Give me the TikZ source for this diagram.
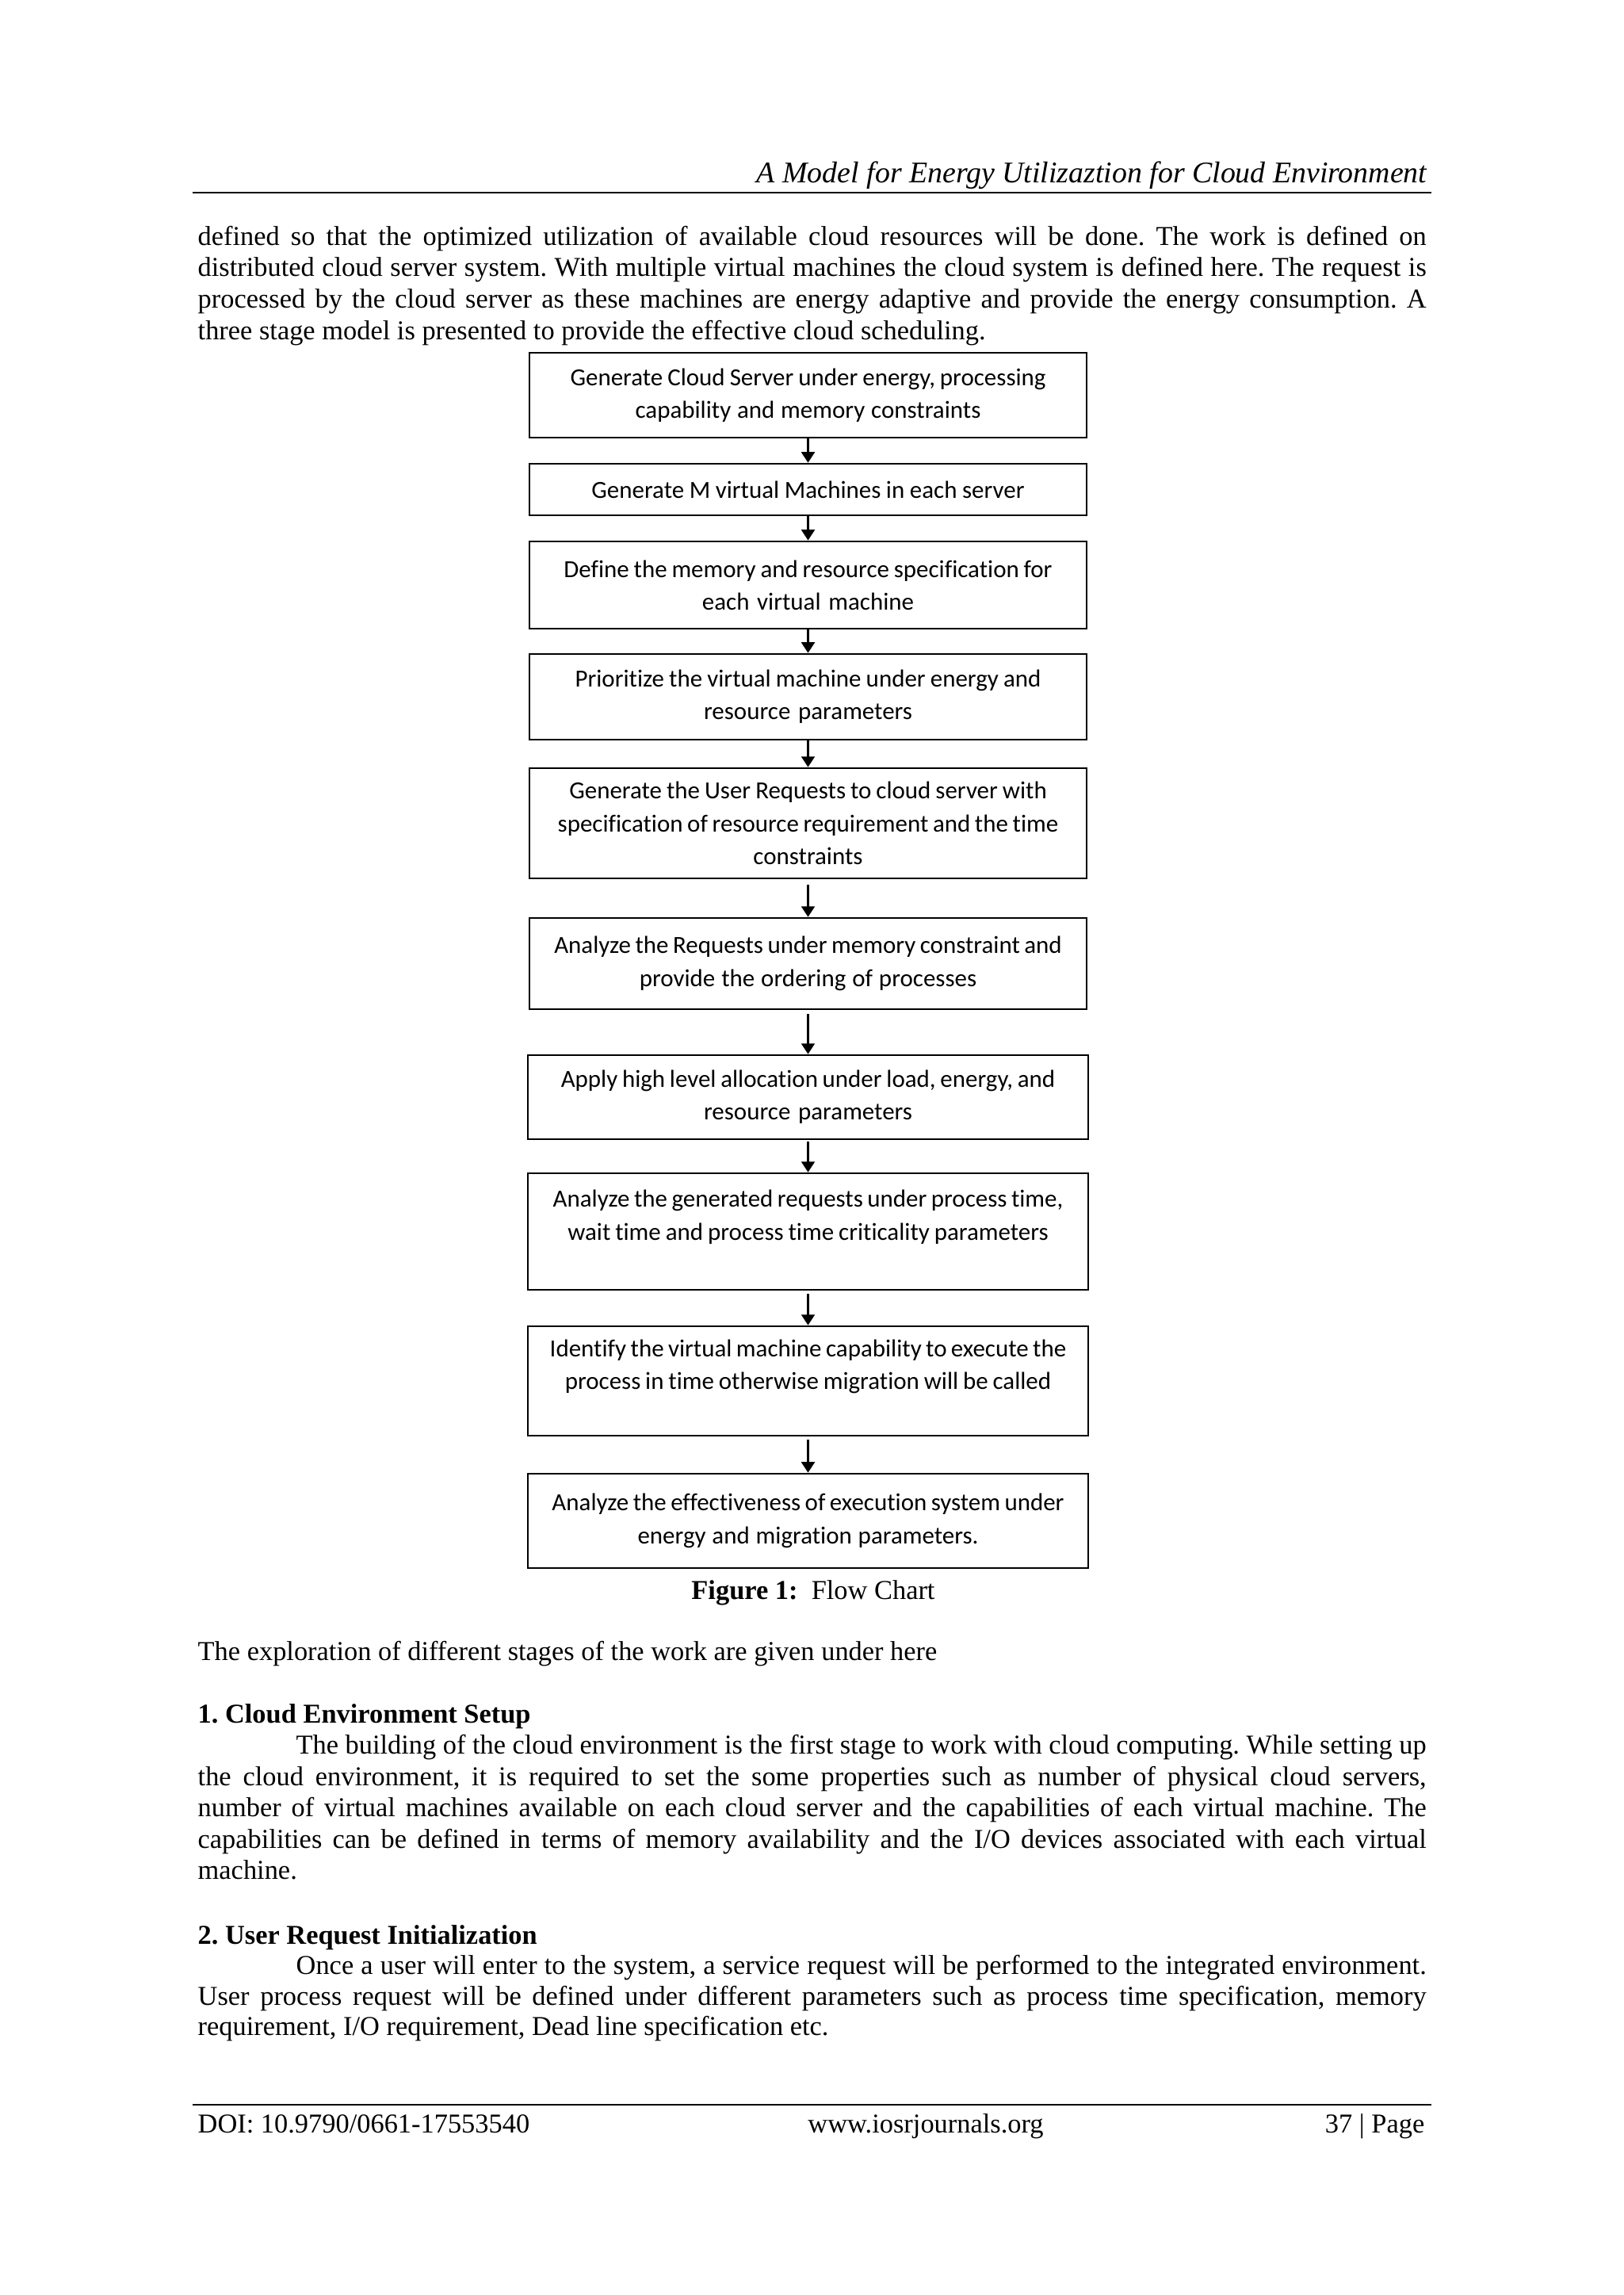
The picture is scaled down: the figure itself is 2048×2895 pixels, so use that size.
\documentclass[tikz,border=0pt]{standalone}
\usepackage{fontspec}
\setmainfont{Liberation Serif}
\newfontfamily\boxfont[Ligatures=NoCommon]{Carlito}
\usetikzlibrary{arrows.meta}
\newlength\pxu
\setlength\pxu{0.29067pt}
\newcommand\myjust[2]{\makebox[#1\pxu][s]{#2}}
\newcommand\boxspace{\spaceskip=1.45pt plus 0.4pt minus 0.2pt\relax}
\frenchspacing
\tikzset{
  flowbox/.style={draw=black, line width=0.78pt, minimum width=204.3pt, text width=200.6pt,
    align=center, inner sep=0pt, font=\boxfont\fontsize{9}{12}\selectfont,
    execute at begin node=\boxspace},
  arr/.style={-{Triangle[width=4.9pt,length=3.9pt]}, line width=0.7pt},
  bodyline/.style={anchor=base west, inner sep=0pt, font=\fontsize{10}{11.5}\selectfont},
  centerline/.style={anchor=base, inner sep=0pt, font=\fontsize{10}{11.5}\selectfont},
  rightline/.style={anchor=base east, inner sep=0pt, font=\fontsize{10}{11.5}\selectfont},
  rulestyle/.style={line width=0.7pt}
}
\begin{document}
\begin{tikzpicture}[x=0.29067pt, y=-0.29067pt]
\fill[white] (0,0) rectangle (2048,2895);
\useasboundingbox (0,0) rectangle (2048,2895);

% header
\node[anchor=base east, inner sep=0pt, font=\fontsize{11}{13}\selectfont\itshape] (head) at (1801,230)
  {A Model for Energy Utilizaztion for Cloud Environment};
\coordinate (hra) at (243,243);
\coordinate (hrb) at (1806,243);
\draw[rulestyle] (hra) -- (hrb);

% first paragraph
\node[bodyline] (pa1) at (249,309) {\myjust{1550}{defined so that the optimized utilization of available cloud resources will be done. The work is defined on}};
\node[bodyline] (pa2) at (249,348) {\myjust{1550}{distributed cloud server system. With multiple virtual machines the cloud system is defined here. The request is}};
\node[bodyline] (pa3) at (249,388) {\myjust{1550}{processed by the cloud server as these machines are energy adaptive and provide the energy consumption. A}};
\node[bodyline] (pa4) at (249,428) {three stage model is presented to provide the effective cloud scheduling.};

% flow chart boxes
\node[flowbox, minimum height=31.1pt] (b1) at (1019.5,498.5)
  {Generate Cloud Server under energy, processing\\capability and memory constraints};
\node[flowbox, minimum height=18.9pt] (b2) at (1019.5,617.5)
  {Generate M virtual Machines in each server};
\node[flowbox, minimum height=32pt] (b3) at (1019.5,738)
  {Define the memory and resource specification for\\each virtual machine};
\node[flowbox, minimum height=31.4pt] (b4) at (1019.5,879)
  {Prioritize the virtual machine under energy and\\resource parameters};
\node[flowbox, minimum height=40.4pt] (b5) at (1019.5,1038.5)
  {Generate the User Requests to cloud server with\\specification of resource requirement and the time\\constraints};
\node[flowbox, minimum height=33.4pt] (b6) at (1019.5,1215.5)
  {Analyze the Requests under memory constraint and\\provide the ordering of processes};
\node[flowbox, minimum width=205.5pt, minimum height=30.8pt] (b7) at (1019.5,1384)
  {Apply high level allocation under load, energy, and\\resource parameters};
\node[flowbox, minimum width=205.5pt, minimum height=42.7pt] (b8) at (1019.5,1553.5)
  {Analyze the generated requests under process time,\\wait time and process time criticality parameters\\\mbox{}};
\node[flowbox, minimum width=205.5pt, minimum height=40.1pt] (b9) at (1019.5,1742)
  {Identify the virtual machine capability to execute the\\process in time otherwise migration will be called\\\mbox{}};
\node[flowbox, minimum width=205.5pt, minimum height=34.6pt] (b10) at (1019.5,1918.5)
  {Analyze the effectiveness of execution system under\\energy and migration parameters.};

\draw[arr] (b1) -- (b2);
\draw[arr] (b2) -- (b3);
\draw[arr] (b3) -- (b4);
\draw[arr] (b4) -- (b5);
\draw[arr, shorten <=2pt] (b5) -- (b6);
\draw[arr, shorten <=1.45pt] (b6) -- (b7);
\draw[arr, shorten <=0.6pt] (b7) -- (b8);
\draw[arr, shorten <=1.2pt] (b8) -- (b9);
\draw[arr, shorten <=1.2pt] (b9) -- (b10);

% caption
\node[centerline] (cap) at (1026,2017) {\textbf{Figure 1:}\ \ Flow Chart};

% text after figure
\node[bodyline] (expl) at (249,2094) {The exploration of different stages of the work are given under here};

\node[bodyline] (s1h) at (249,2173) {\textbf{1. Cloud Environment Setup}};
\node[bodyline] (s1a) at (373,2212.5) {\myjust{1426}{The building of the cloud environment is the first stage to work with cloud computing. While setting up}};
\node[bodyline] (s1b) at (249,2252) {\myjust{1550}{the cloud environment, it is required to set the some properties such as number of physical cloud servers,}};
\node[bodyline] (s1c) at (249,2291.5) {\myjust{1550}{number of virtual machines available on each cloud server and the capabilities of each virtual machine. The}};
\node[bodyline] (s1d) at (249,2331) {\myjust{1550}{capabilities can be defined in terms of memory availability and the I/O devices associated with each virtual}};
\node[bodyline] (s1e) at (249,2370.5) {machine.};

\node[bodyline] (s2h) at (249,2452) {\textbf{2. User Request Initialization}};
\node[bodyline] (s2a) at (373,2490.5) {\myjust{1426}{Once a user will enter to the system, a service request will be performed to the integrated environment.}};
\node[bodyline] (s2b) at (249,2529) {\myjust{1550}{User process request will be defined under different parameters such as process time specification, memory}};
\node[bodyline] (s2c) at (249,2567.5) {requirement, I/O requirement, Dead line specification etc.};

% footer
\coordinate (fra) at (243,2655);
\coordinate (frb) at (1806,2655);
\draw[rulestyle] (fra) -- (frb);
\node[bodyline] (doi) at (249,2690) {DOI: 10.9790/0661-17553540};
\node[centerline] (web) at (1168,2690) {www.iosrjournals.org};
\node[rightline] (page) at (1798,2690) {37 | Page};
\end{tikzpicture}
\end{document}
